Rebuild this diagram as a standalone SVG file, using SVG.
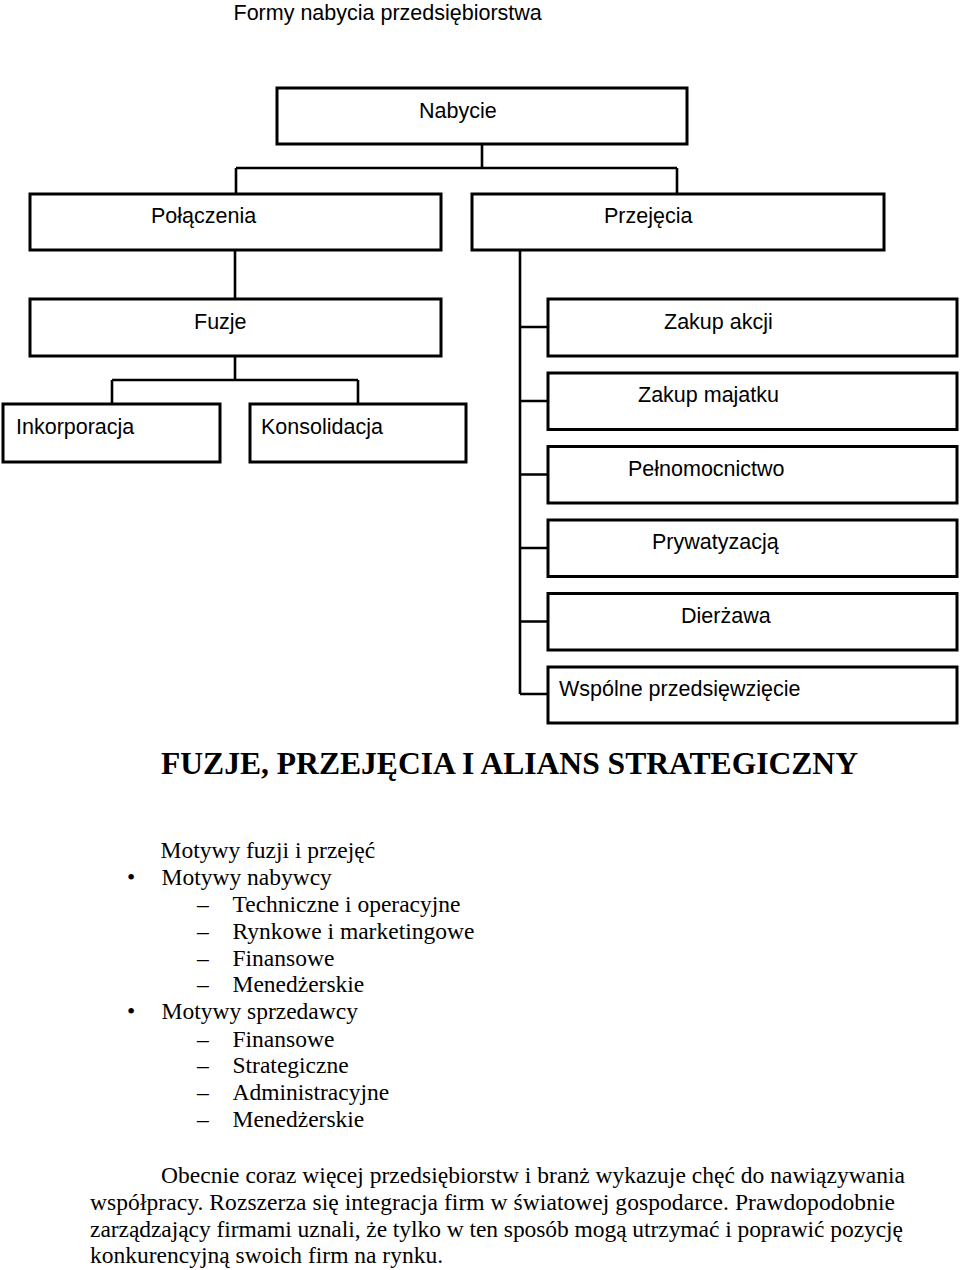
<svg xmlns="http://www.w3.org/2000/svg" width="960" height="1270" viewBox="0 0 960 1270">
<style>
.box{fill:#fff;stroke:#000;stroke-width:3}
.lbl{font-family:"Liberation Sans",Arial,sans-serif;font-size:21.5px;fill:#000}
.con{fill:none;stroke:#000;stroke-width:2.6}
.hd{font-family:"Liberation Serif","Times New Roman",serif;font-size:31.6px;font-weight:bold;fill:#000}
.tx{font-family:"Liberation Serif","Times New Roman",serif;font-size:23.5px;fill:#000}
</style>
<rect width="960" height="1270" fill="#fff"/>
<text class="lbl" x="233.5" y="19.5">Formy nabycia przedsiębiorstwa</text>
<g id="connectors">
<path class="con" d="M482,144 V168 M236,168 H677 M236,168 V194 M677,168 V194"/>
<path class="con" d="M235,250 V299"/>
<path class="con" d="M235,356 V380 M112,380 H358 M112,380 V404 M358,380 V404"/>
<path class="con" d="M520,250 V694 M520,327 H548 M520,401 H548 M520,474.5 H548 M520,548 H548 M520,621.5 H548 M520,694 H548"/>
</g>
<g id="nabycie"><rect class="box" x="277" y="88" width="410" height="56"/><text class="lbl" x="419" y="117.5">Nabycie</text></g>
<g id="polaczenia"><rect class="box" x="30" y="194" width="411" height="56"/><text class="lbl" x="151" y="222.5">Połączenia</text></g>
<g id="przejecia"><rect class="box" x="472" y="194" width="412" height="56"/><text class="lbl" x="604" y="222.5">Przejęcia</text></g>
<g id="fuzje"><rect class="box" x="30" y="299" width="411" height="57"/><text class="lbl" x="194" y="328.5">Fuzje</text></g>
<g id="inkorporacja"><rect class="box" x="3" y="404" width="217" height="58"/><text class="lbl" x="16" y="434">Inkorporacja</text></g>
<g id="konsolidacja"><rect class="box" x="250" y="404" width="216" height="58"/><text class="lbl" x="261" y="434">Konsolidacja</text></g>
<g id="zakup-akcji"><rect class="box" x="548" y="299" width="409" height="57"/><text class="lbl" x="664" y="328.5">Zakup akcji</text></g>
<g id="zakup-majatku"><rect class="box" x="548" y="373" width="409" height="56.5"/><text class="lbl" x="638" y="402">Zakup majatku</text></g>
<g id="pelnomocnictwo"><rect class="box" x="548" y="446.5" width="409" height="56.5"/><text class="lbl" x="628" y="475.5">Pełnomocnictwo</text></g>
<g id="prywatyzacja"><rect class="box" x="548" y="520" width="409" height="56.5"/><text class="lbl" x="652" y="549">Prywatyzacją</text></g>
<g id="dierzawa"><rect class="box" x="548" y="593.5" width="409" height="56.5"/><text class="lbl" x="681" y="622.5">Dierżawa</text></g>
<g id="wspolne"><rect class="box" x="548" y="667" width="409" height="56"/><text class="lbl" x="559" y="695.5">Wspólne przedsięwzięcie</text></g>
<text class="hd" x="161" y="774" textLength="697" lengthAdjust="spacingAndGlyphs">FUZJE, PRZEJĘCIA I ALIANS STRATEGICZNY</text>
<g id="list">
<text class="tx" x="160.5" y="858">Motywy fuzji i przejęć</text>
<text class="tx" x="127" y="885">•</text><text class="tx" x="161.5" y="885">Motywy nabywcy</text>
<text class="tx" x="197" y="911.5">–</text><text class="tx" x="232.5" y="911.5">Techniczne i operacyjne</text>
<text class="tx" x="197" y="938.5">–</text><text class="tx" x="232.5" y="938.5">Rynkowe i marketingowe</text>
<text class="tx" x="197" y="965.5">–</text><text class="tx" x="232.5" y="965.5">Finansowe</text>
<text class="tx" x="197" y="992">–</text><text class="tx" x="232.5" y="992">Menedżerskie</text>
<text class="tx" x="127" y="1019">•</text><text class="tx" x="161.5" y="1019">Motywy sprzedawcy</text>
<text class="tx" x="197" y="1046.5">–</text><text class="tx" x="232.5" y="1046.5">Finansowe</text>
<text class="tx" x="197" y="1073">–</text><text class="tx" x="232.5" y="1073">Strategiczne</text>
<text class="tx" x="197" y="1100">–</text><text class="tx" x="232.5" y="1100">Administracyjne</text>
<text class="tx" x="197" y="1127">–</text><text class="tx" x="232.5" y="1127">Menedżerskie</text>
</g>
<g id="paragraph">
<text class="tx" x="161" y="1183" textLength="744" lengthAdjust="spacing">Obecnie coraz więcej przedsiębiorstw i branż wykazuje chęć do nawiązywania</text>
<text class="tx" x="90" y="1210" textLength="805" lengthAdjust="spacing">współpracy. Rozszerza się integracja firm w światowej gospodarce. Prawdopodobnie</text>
<text class="tx" x="90" y="1236.5" textLength="813" lengthAdjust="spacing">zarządzający firmami uznali, że tylko w ten sposób mogą utrzymać i poprawić pozycję</text>
<text class="tx" x="90" y="1262.5">konkurencyjną swoich firm na rynku.</text>
</g>
</svg>
